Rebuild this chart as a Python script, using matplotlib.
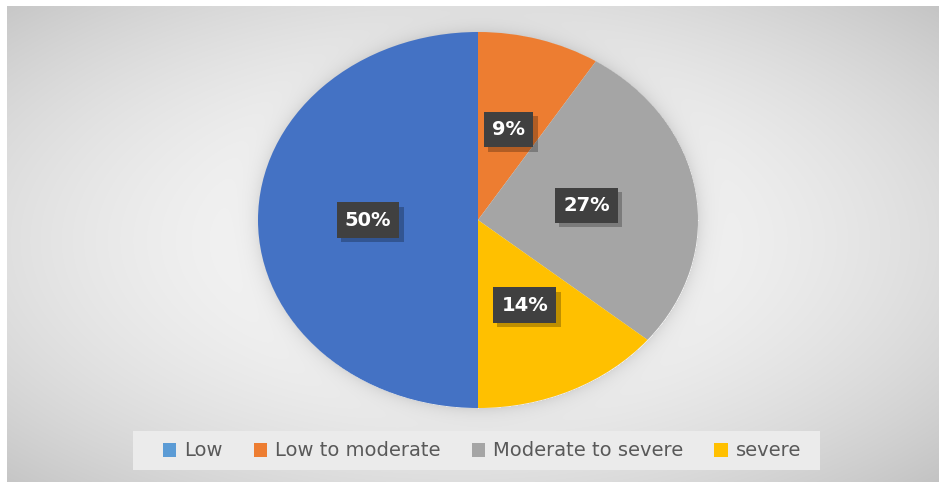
import numpy as np
import matplotlib.pyplot as plt
from matplotlib import patheffects as pe
from matplotlib.patches import Patch, Rectangle

labels = ['Low', 'Low to moderate', 'Moderate to severe', 'severe']
values = [50, 9, 27, 14]
pie_colors = ['#4472C4', '#ED7D31', '#A5A5A5', '#FFC000']
legend_colors = ['#5B9BD5', '#ED7D31', '#A5A5A5', '#FFC000']

W, H = 939, 482
fig = plt.figure(figsize=(W / 100, H / 100), dpi=100)

# gray panel: radial gradient plus a soft shadow round the pie
bg = fig.add_axes([7 / W, 0, (W - 7) / W, (H - 6) / H])
yy, xx = np.mgrid[6:H, 7:W].astype(float)
d = np.hypot((xx - 460) / 470, (yy - 240) / 240)
img = 0.97 - 0.1 * d ** 2
e = np.hypot((xx - 478) / 220, (yy - 220) / 188)
img = img - 0.09 * np.exp(-np.clip(e - 1, 0, None) / 0.04) * (e > 1)
img = np.clip(img, 0, 1)
bg.imshow(np.dstack([img, img, img]), aspect='auto', interpolation='nearest')
bg.axis('off')

# pie (elliptical, as in the original)
ax = fig.add_axes([258 / W, (H - 408) / H, 440 / W, 376 / H])
wedges, texts, autotexts = ax.pie(values, colors=pie_colors, startangle=270,
                                  counterclock=False, autopct='%d%%',
                                  pctdistance=0.5, wedgeprops=dict(linewidth=0))
ax.set_xlim(-1, 1)
ax.set_ylim(-1, 1)
ax.set_aspect('auto')
ax.axis('off')

for t in autotexts:
    t.set_color('white')
    t.set_fontsize(14)
    t.set_fontweight('bold')
    t.set_bbox(dict(boxstyle='square,pad=0.42', facecolor='#404040', edgecolor='none'))
    t.get_bbox_patch().set_path_effects([
        pe.SimplePatchShadow(offset=(3, -3), shadow_rgbFace='k', alpha=0.25),
        pe.Normal()])

# legend band
fig.patches.append(Rectangle((133 / W, 1 - 470 / H), 687 / W, 39 / H,
                             transform=fig.transFigure, facecolor='#ebebeb',
                             edgecolor='none', zorder=1))
handles = [Patch(facecolor=c, label=l) for c, l in zip(legend_colors, labels)]
leg = fig.legend(handles=handles, loc='center', bbox_to_anchor=(482 / W, 1 - 451 / H),
                 ncol=4, frameon=False, fontsize=14, handlelength=0.7,
                 handleheight=0.7, handletextpad=0.4, columnspacing=1.6,
                 labelcolor='#595959')

fig.savefig('out.png', dpi=100)
